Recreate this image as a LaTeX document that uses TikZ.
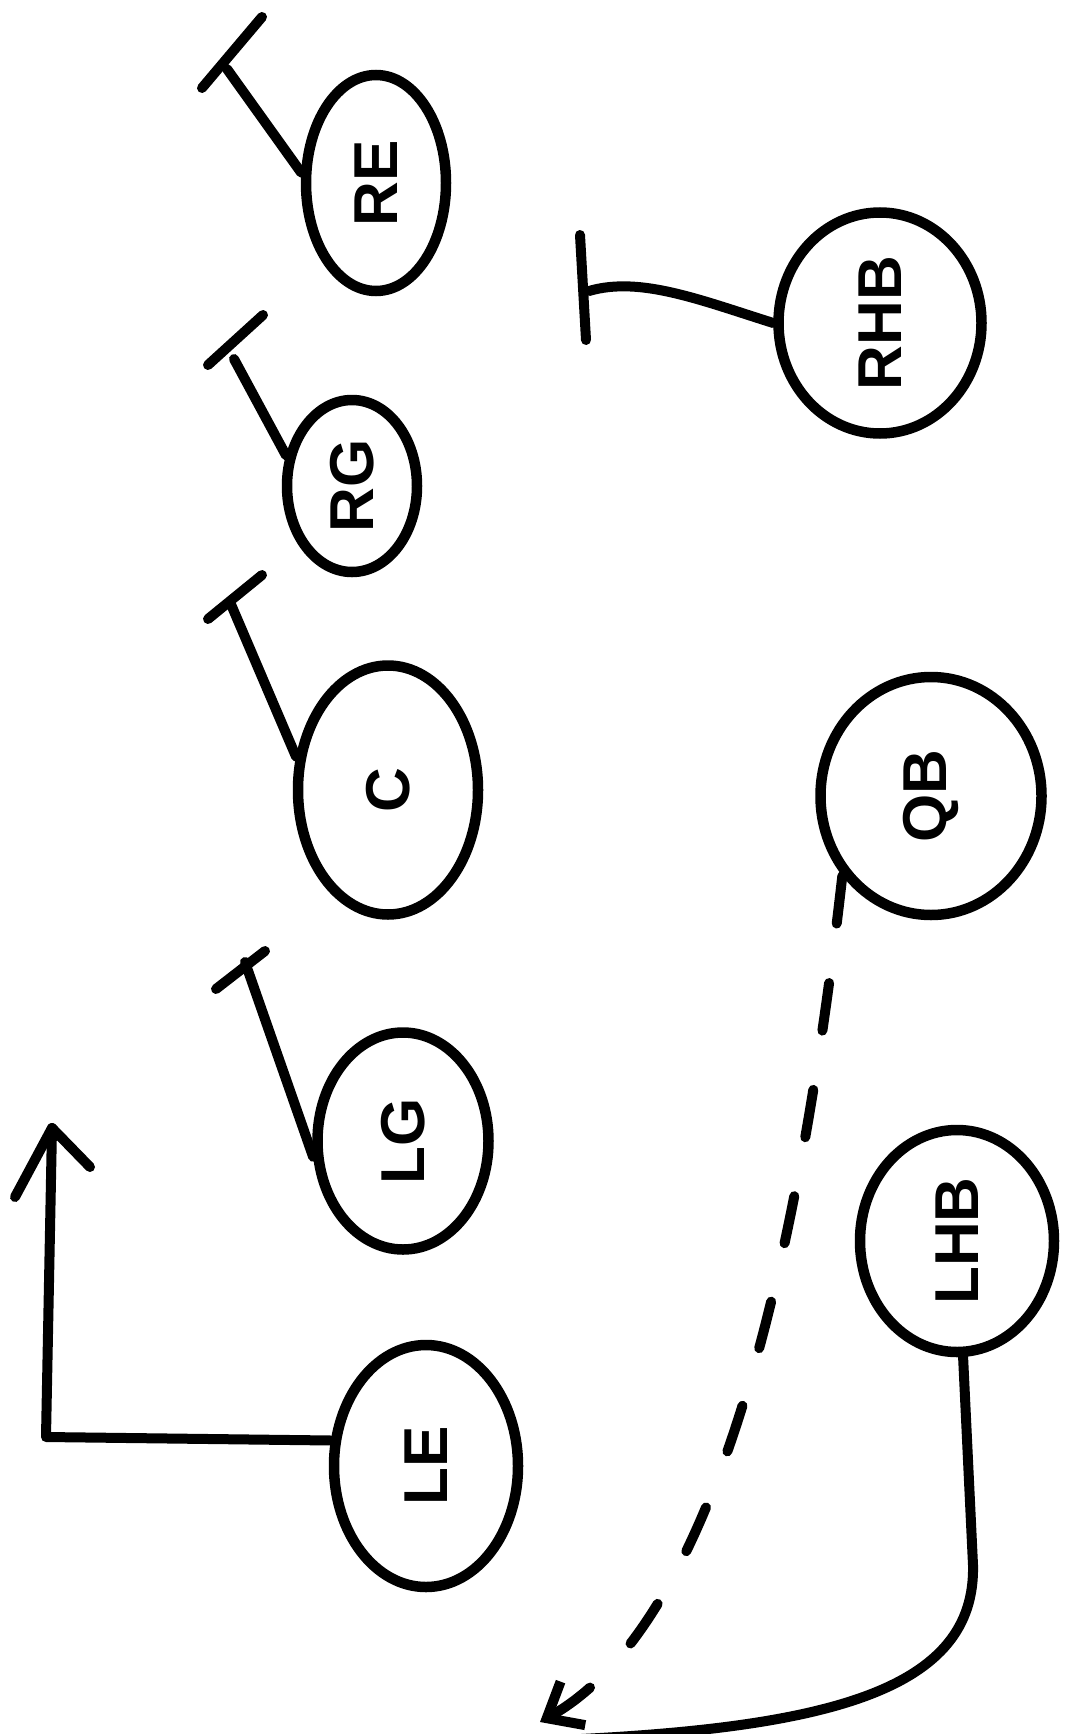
\documentclass[tikz,border=0pt]{standalone}
\usepackage{fontspec}
\setsansfont{Liberation Sans}
\usetikzlibrary{shapes.geometric,arrows.meta}
\begin{document}
\begin{tikzpicture}[x=1pt,y=-1pt,
  player/.style={ellipse,draw,line width=10.5pt,inner sep=0pt,
    font=\sffamily\bfseries\fontsize{62}{74}\selectfont},
  route/.style={line width=10pt,line cap=round,line join=round},
  dashroute/.style={route,dash pattern=on 48pt off 60pt}]
\useasboundingbox (0,0) rectangle (1069,1734);
\begin{scope}
\clip (0,0) rectangle (1069,1734);
% players
\node[player,minimum width=140pt,minimum height=216pt] (re)  at (376,183)  {\rotatebox{90}{RE}};
\node[player,minimum width=130pt,minimum height=172pt] (rg)  at (352,486)  {\rotatebox{90}{RG}};
\node[player,minimum width=180pt,minimum height=249pt] (c)   at (388,790)  {\rotatebox{90}{C}};
\node[player,minimum width=171pt,minimum height=217pt] (lg)  at (403,1141) {\rotatebox{90}{LG}};
\node[player,minimum width=184pt,minimum height=242pt] (le)  at (426,1466) {\rotatebox{90}{LE}};
\node[player,minimum width=203pt,minimum height=221pt] (rhb) at (880,323)  {\rotatebox{90}{RHB}};
\node[player,minimum width=221pt,minimum height=238pt] (qb)  at (931,796)  {\rotatebox{90}{QB}};
\node[player,minimum width=194pt,minimum height=222pt] (lhb) at (957,1241) {\rotatebox{90}{LHB}};
% free ends
\coordinate (reEnd) at (227,69);   \coordinate (reB1) at (202,88);  \coordinate (reB2) at (262,17);
\coordinate (rgEnd) at (234,359);  \coordinate (rgB1) at (208,365); \coordinate (rgB2) at (263,315);
\coordinate (cEnd) at (230,602);   \coordinate (cB1) at (208,619);  \coordinate (cB2) at (262,575);
\coordinate (lgEnd) at (245,962);  \coordinate (lgB1) at (216,989); \coordinate (lgB2) at (265,951);
\coordinate (leCorner) at (46,1437); \coordinate (leTip) at (52,1128);
\coordinate (leW1) at (15,1197);   \coordinate (leW2) at (90,1167);
\coordinate (rhbEnd) at (589,291); \coordinate (rhbB1) at (580,235); \coordinate (rhbB2) at (586,340);
\coordinate (qbEnd) at (540,1722);
\coordinate (lhbMid) at (973,1565); \coordinate (lhbEnd) at (560,1740);
% blocks
\draw[route] (re.172) -- (reEnd);  \draw[route] (reB1) -- (reB2);
\draw[route] (rg.155) -- (rgEnd);  \draw[route] (rgB1) -- (rgB2);
\draw[route] (c.160) -- (cEnd);    \draw[route] (cB1) -- (cB2);
\draw[route] (lg.190) -- (lgEnd);  \draw[route] (lgB1) -- (lgB2);
\draw[route] (rhb.180) .. controls (700,300) and (640,276) .. (rhbEnd);
\draw[route] (rhbB1) -- (rhbB2);
% LE route
\draw[route] (le.165) -- (leCorner) -- (leTip);
\draw[route] (leW1) -- (leTip) -- (leW2);
% QB dashed route
\draw[dashroute,-{Straight Barb[length=30pt,width=50pt]}] (qb.222) .. controls (800,1250) and (720,1620) .. (qbEnd);
% LHB route
\draw[route] (lhb.273) -- (lhbMid) .. controls (976,1690) and (830,1728) .. (lhbEnd);
\end{scope}
\end{tikzpicture}
\end{document}
